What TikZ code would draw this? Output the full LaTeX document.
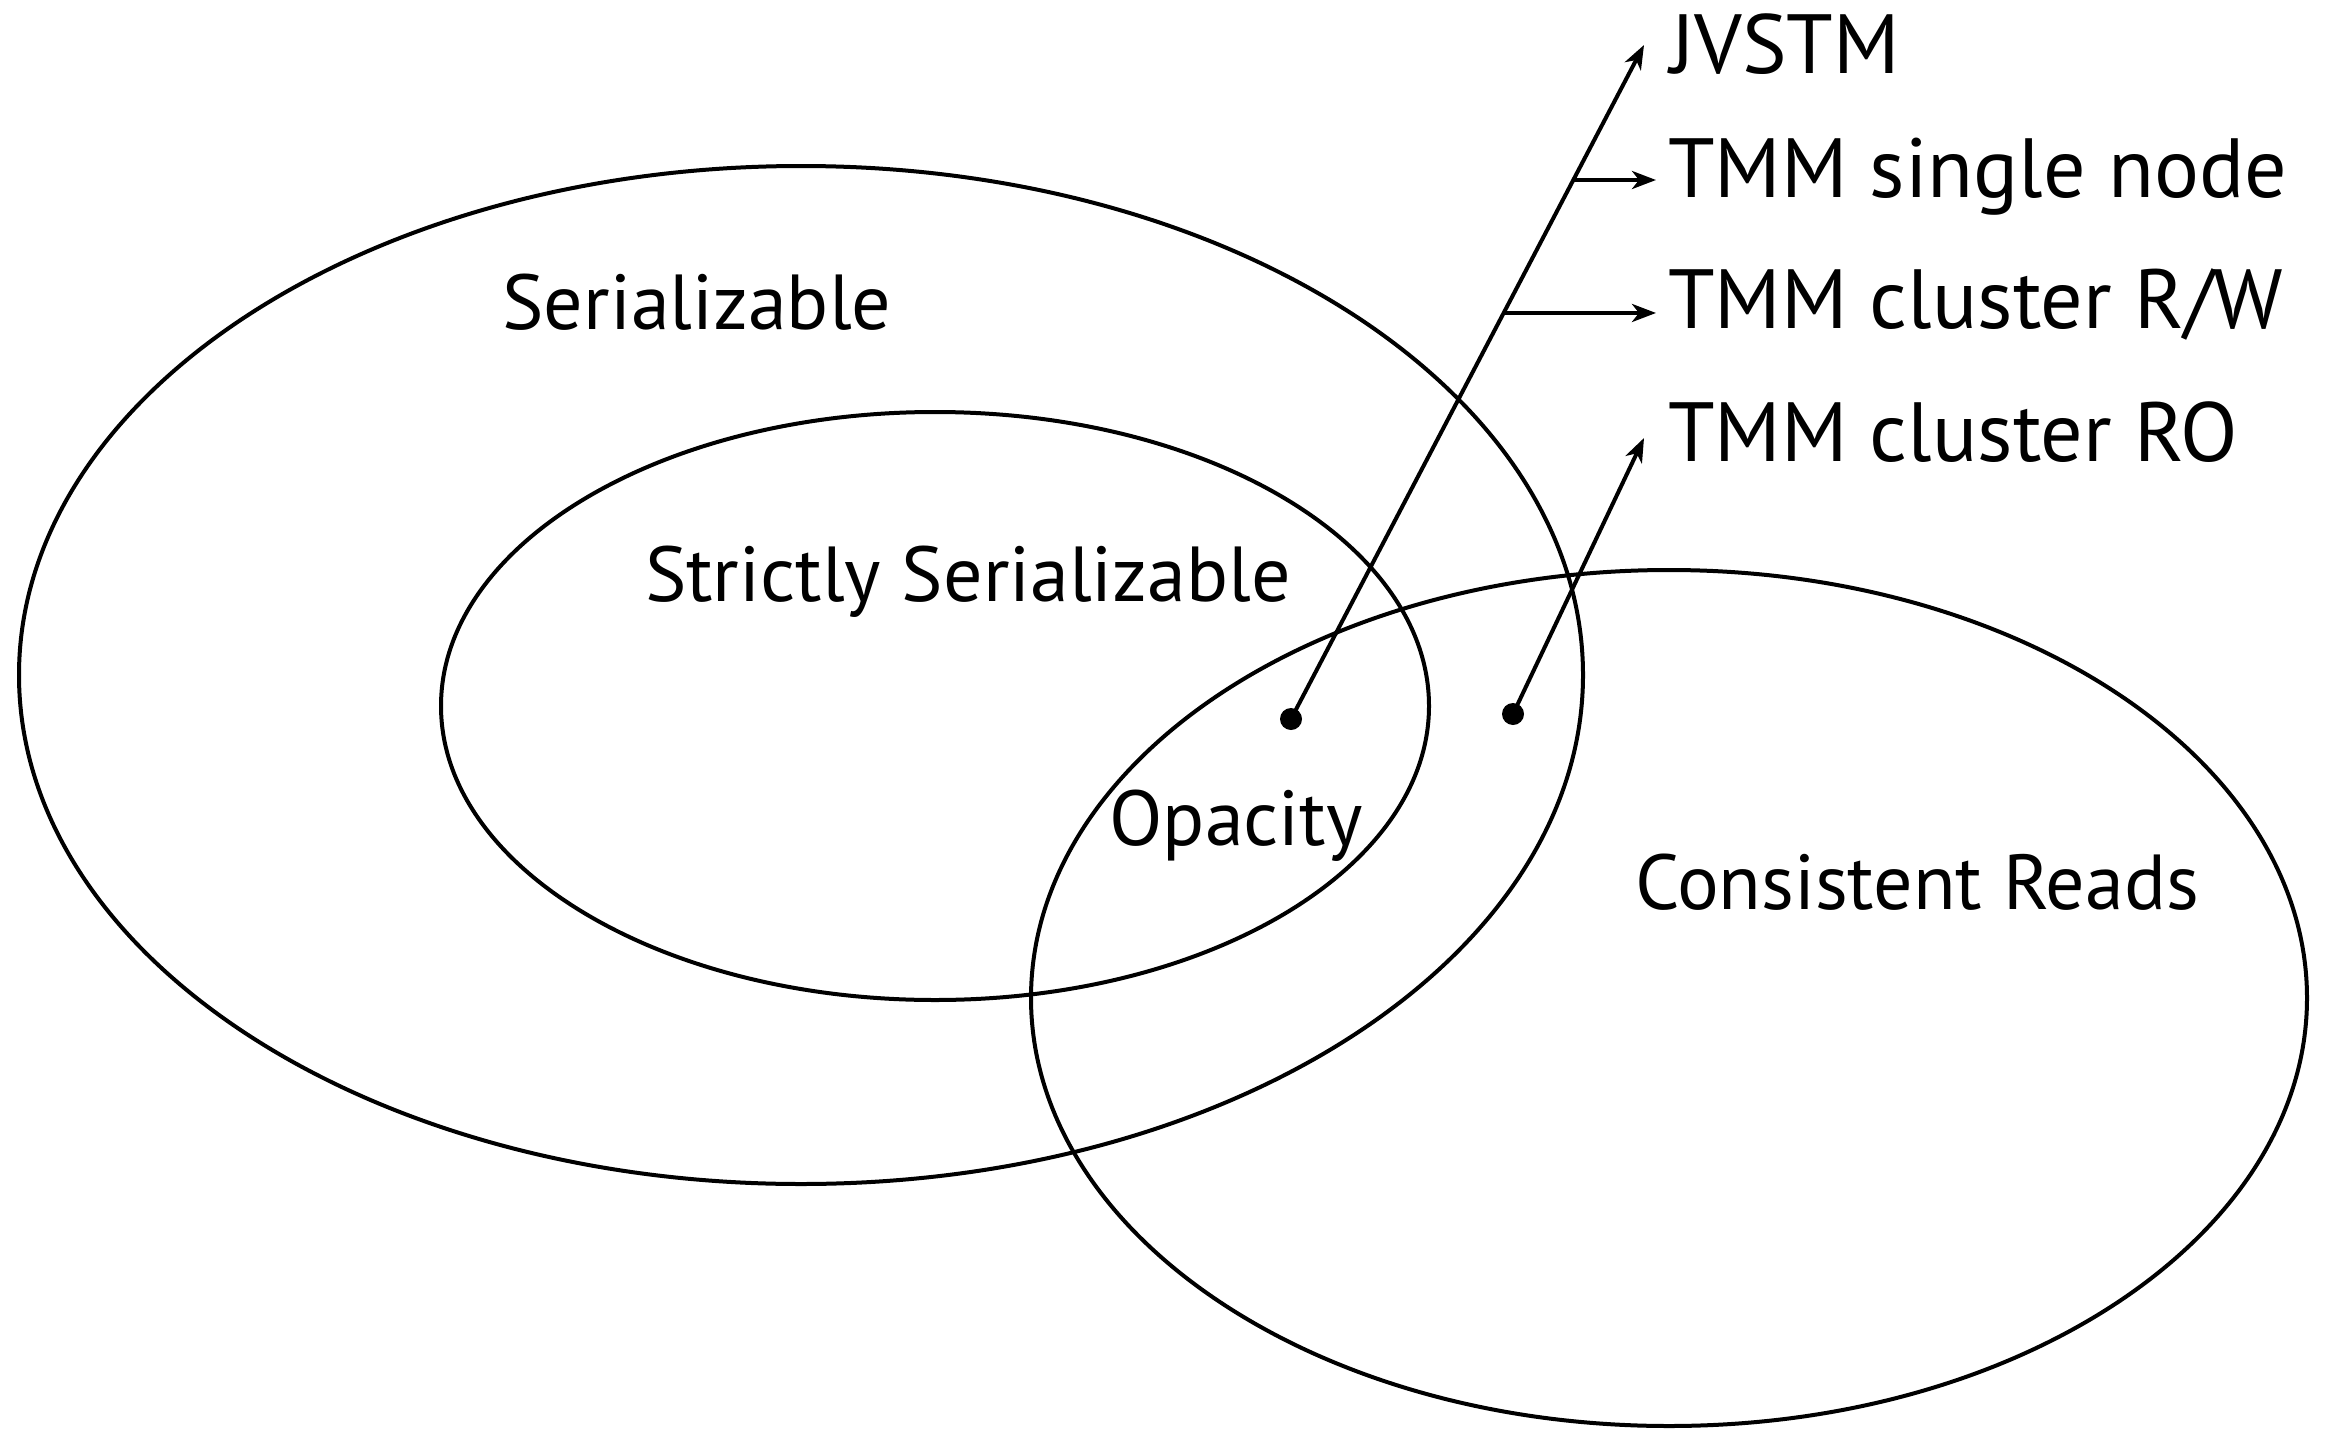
\documentclass[tikz,border=0pt]{standalone}
\usepackage{fontspec}
\setmainfont{PT Sans}
\usetikzlibrary{arrows.meta,calc}
\begin{document}
\begin{tikzpicture}[x=1pt,y=-1pt,line width=4pt,
  lbl/.style={inner sep=0pt,outer sep=0pt,anchor=base,font=\fontsize{78}{84}\selectfont},
  rlbl/.style={inner sep=0pt,outer sep=0pt,anchor=base west,font=\fontsize{84}{90}\selectfont},
  arr/.style={-{Stealth[length=24pt,width=18pt,inset=7pt]}},
  dot/.style={circle,fill,inner sep=0pt,minimum size=22pt}]
\useasboundingbox (0,0) rectangle (2326,1429);
% ellipses
\draw (801,675) ellipse [x radius=782pt,y radius=509pt];
\draw (935,706) ellipse [x radius=494pt,y radius=294pt];
\draw (1669,998) ellipse [x radius=638pt,y radius=428pt];
% labels
\node[lbl] (ser) at (697,329) {Serializable};
\node[lbl] (strict) at (968,601) {Strictly Serializable};
\node[lbl] (opa) at (1236,845) {Opacity};
\node[lbl] (cons) at (1917,909) {Consistent Reads};
\node[rlbl] (jv) at (1670,74) {JVSTM};
\node[rlbl] (sn) at (1668,197) {TMM single node};
\node[rlbl] (rw) at (1668,328) {TMM cluster R/W};
\node[rlbl] (ro) at (1668,461) {TMM cluster RO};
% dots and arrows
\node[dot] (d1) at (1291,719) {};
\node[dot] (d2) at (1513,714) {};
\coordinate (tj) at (1644,45);
\coordinate (tro) at (1644,438);
\draw[arr] (d1.center) -- (tj);
\draw[arr] (d2.center) -- (tro);
\coordinate (b1) at ($(d1.center)!0.7997!(tj)$);
\coordinate (b2) at ($(d1.center)!0.6024!(tj)$);
\draw[arr,shorten >=12pt] (b1) -- (b1 -| sn.west);
\draw[arr,shorten >=12pt] (b2) -- (b2 -| rw.west);
\end{tikzpicture}
\end{document}
